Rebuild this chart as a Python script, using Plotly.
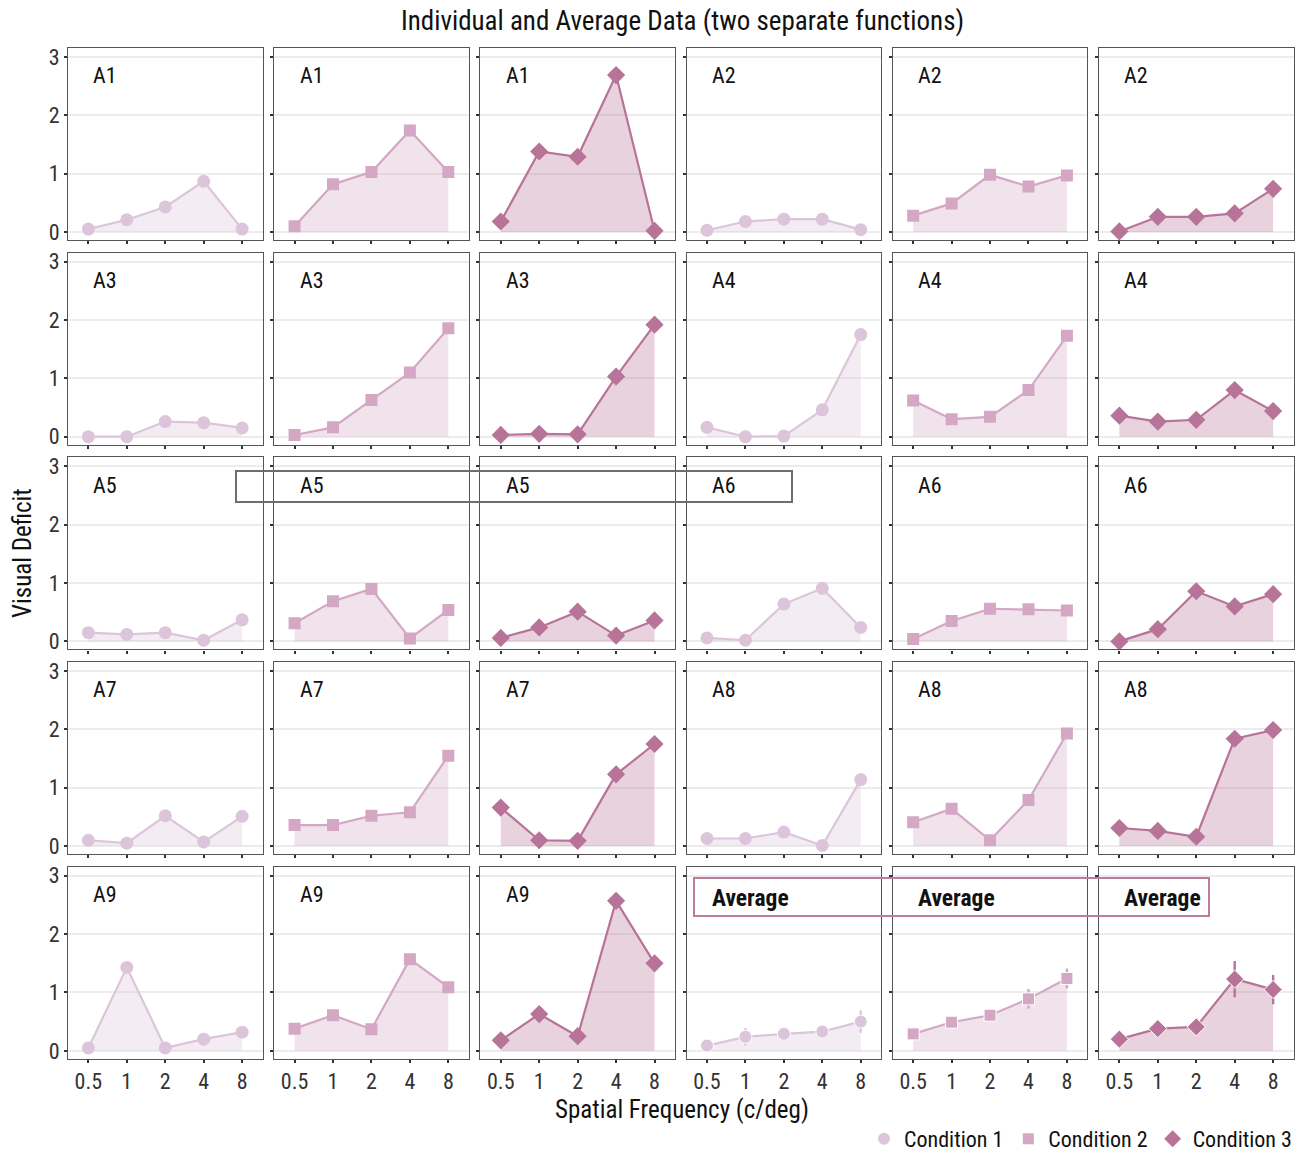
import plotly.graph_objects as go

W, H = 1297, 1154
FONT = "Liberation Sans Narrow, Arial Narrow, Roboto Condensed, Liberation Sans, sans-serif"

x_labels = ["0.5", "1", "2", "4", "8"]
participants = ["A1", "A2", "A3", "A4", "A5", "A6", "A7", "A8", "A9"]
conditions = ["Condition 1", "Condition 2", "Condition 3"]

cond1 = {
    "A1": [0.05, 0.21, 0.43, 0.87, 0.05],
    "A2": [0.03, 0.18, 0.22, 0.22, 0.04],
    "A3": [0.00, 0.00, 0.26, 0.24, 0.15],
    "A4": [0.16, 0.00, 0.01, 0.46, 1.75],
    "A5": [0.15, 0.12, 0.15, 0.02, 0.37],
    "A6": [0.06, 0.02, 0.64, 0.91, 0.24],
    "A7": [0.10, 0.05, 0.52, 0.07, 0.51],
    "A8": [0.13, 0.13, 0.24, 0.01, 1.14],
    "A9": [0.05, 1.43, 0.05, 0.20, 0.32],
}
cond2 = {
    "A1": [0.10, 0.82, 1.03, 1.74, 1.03],
    "A2": [0.28, 0.49, 0.98, 0.78, 0.97],
    "A3": [0.03, 0.16, 0.63, 1.10, 1.86],
    "A4": [0.62, 0.30, 0.34, 0.80, 1.73],
    "A5": [0.31, 0.69, 0.90, 0.05, 0.54],
    "A6": [0.04, 0.35, 0.56, 0.55, 0.53],
    "A7": [0.36, 0.36, 0.52, 0.58, 1.55],
    "A8": [0.41, 0.64, 0.10, 0.79, 1.93],
    "A9": [0.38, 0.61, 0.37, 1.57, 1.09],
}
cond3 = {
    "A1": [0.18, 1.38, 1.29, 2.69, 0.02],
    "A2": [0.01, 0.26, 0.26, 0.32, 0.74],
    "A3": [0.03, 0.05, 0.04, 1.03, 1.92],
    "A4": [0.36, 0.26, 0.29, 0.80, 0.44],
    "A5": [0.06, 0.24, 0.51, 0.10, 0.36],
    "A6": [0.00, 0.21, 0.86, 0.60, 0.81],
    "A7": [0.66, 0.10, 0.09, 1.23, 1.75],
    "A8": [0.31, 0.26, 0.16, 1.84, 1.99],
    "A9": [0.18, 0.63, 0.25, 2.57, 1.50],
}
avg1 = [0.09, 0.24, 0.29, 0.33, 0.50]
err1 = [0.03, 0.15, 0.05, 0.10, 0.19]
avg2 = [0.29, 0.49, 0.61, 0.89, 1.24]
err2 = [0.03, 0.05, 0.10, 0.17, 0.17]
avg3 = [0.20, 0.38, 0.41, 1.23, 1.05]
err3 = [0.04, 0.13, 0.12, 0.31, 0.25]

colors = ["#dcc5db", "#d4a7c4", "#b87398"]
fills = ["rgba(220,197,219,0.32)", "rgba(212,167,196,0.32)", "rgba(184,115,152,0.32)"]
symbols = ["circle", "square", "diamond"]
msizes = [13, 12, 14]

# panel geometry (pixels)
col_left0, col_step, pw = 68, 206.2, 194.5
row_top0, row_step, ph = 48, 204.7, 192

fig = go.Figure()
xi = list(range(len(x_labels)))

panels = []
for r in range(5):
    for c in range(6):
        k = c % 3
        if r < 4:
            p = participants[2 * r + (0 if c < 3 else 1)]
            data = [cond1, cond2, cond3][k][p]
            err = None
            label = p
        else:
            if c < 3:
                p = "A9"
                data = [cond1, cond2, cond3][k][p]
                err = None
                label = p
            else:
                data = [avg1, avg2, avg3][k]
                err = [err1, err2, err3][k]
                label = "Average"
        panels.append((r, c, k, data, err, label))

for (r, c, k, data, err, label) in panels:
    idx = r * 6 + c + 1
    xs = "x" if idx == 1 else f"x{idx}"
    ys = "y" if idx == 1 else f"y{idx}"
    tr = dict(
        x=xi, y=data, mode="lines+markers", xaxis=xs, yaxis=ys,
        line=dict(color=colors[k], width=2.2),
        marker=dict(symbol=symbols[k], size=msizes[k], color=colors[k],
                    line=dict(color="white", width=1 if err else 0)),
        fill="tozeroy", fillcolor=fills[k], showlegend=False, hoverinfo="skip",
    )
    if err:
        tr["error_y"] = dict(type="data", array=err, visible=True,
                             color=colors[k], thickness=2.4, width=0)
    fig.add_trace(go.Scatter(**tr))

    x0 = (col_left0 + c * col_step) / W
    x1 = (col_left0 + c * col_step + pw) / W
    ytop = row_top0 + r * row_step
    y1 = 1 - ytop / H
    y0 = 1 - (ytop + ph) / H
    ax_x = dict(
        domain=[x0, x1], anchor=ys, range=[-0.53, 4.53],
        tickmode="array", tickvals=xi, ticktext=x_labels,
        showticklabels=(r == 4), ticks="outside", ticklen=3, tickwidth=2,
        tickcolor="#333333", showgrid=False, zeroline=False,
        showline=True, mirror=True, linecolor="#555555", linewidth=1.2,
        tickfont=dict(family=FONT, size=22, color="#333333"), fixedrange=True,
    )
    ax_y = dict(
        domain=[y0, y1], anchor=xs, range=[-0.137, 3.154],
        tickmode="array", tickvals=[0, 1, 2, 3],
        showticklabels=(c == 0), ticks="outside", ticklen=3, tickwidth=2,
        tickcolor="#333333", showgrid=True, gridcolor="#ececec", gridwidth=2,
        zeroline=False, showline=True, mirror=True, linecolor="#555555",
        linewidth=1.2, tickfont=dict(family=FONT, size=22, color="#333333"),
        fixedrange=True,
    )
    fig.layout["xaxis" if idx == 1 else f"xaxis{idx}"] = ax_x
    fig.layout["yaxis" if idx == 1 else f"yaxis{idx}"] = ax_y

    if label == "Average":
        fig.add_annotation(x=0.12, y=0.84, xref=f"{xs} domain", yref=f"{ys} domain",
                           text="<b>Average</b>", showarrow=False, xanchor="left",
                           yanchor="middle",
                           font=dict(family=FONT, size=23.5, color="#111111"))
    else:
        fig.add_annotation(x=0.12, y=0.855, xref=f"{xs} domain", yref=f"{ys} domain",
                           text=label, showarrow=False, xanchor="left",
                           yanchor="middle",
                           font=dict(family=FONT, size=22, color="#111111"))

# legend-only traces
for k in range(3):
    fig.add_trace(go.Scatter(
        x=[None], y=[None], mode="markers", name=conditions[k],
        marker=dict(symbol=symbols[k], size=msizes[k] - 1, color=colors[k]),
        showlegend=True, xaxis="x", yaxis="y",
    ))

# highlight boxes
fig.add_shape(type="rect", xref="paper", yref="paper",
              x0=236 / W, x1=792 / W, y0=1 - 502 / H, y1=1 - 471 / H,
              line=dict(color="#6e6e6e", width=2), fillcolor="rgba(0,0,0,0)")
fig.add_shape(type="rect", xref="paper", yref="paper",
              x0=694 / W, x1=1209 / W, y0=1 - 916 / H, y1=1 - 878 / H,
              line=dict(color="#c07aa0", width=2), fillcolor="rgba(0,0,0,0)")

# titles
fig.add_annotation(x=682 / W, y=1 - 21 / H, xref="paper", yref="paper",
                   text="Individual and Average Data (two separate functions)",
                   showarrow=False, xanchor="center", yanchor="middle",
                   font=dict(family=FONT, size=27, color="#111111"))
fig.add_annotation(x=682 / W, y=1 - 1109 / H, xref="paper", yref="paper",
                   text="Spatial Frequency (c/deg)", showarrow=False,
                   xanchor="center", yanchor="middle",
                   font=dict(family=FONT, size=25, color="#111111"))
fig.add_annotation(x=22 / W, y=1 - 553 / H, xref="paper", yref="paper",
                   text="Visual Deficit", showarrow=False, textangle=-90,
                   xanchor="center", yanchor="middle",
                   font=dict(family=FONT, size=25, color="#111111"))

fig.update_layout(
    width=W, height=H, margin=dict(l=0, r=0, t=0, b=0, autoexpand=False),
    paper_bgcolor="white", plot_bgcolor="white",
    showlegend=True,
    legend=dict(orientation="h", x=1.0, xanchor="right", y=1 - 1139 / H,
                yanchor="middle", font=dict(family=FONT, size=22, color="#111111"),
                bgcolor="rgba(0,0,0,0)", itemwidth=30, tracegroupgap=0),
    font=dict(family=FONT),
)

fig.write_html("out.html")
